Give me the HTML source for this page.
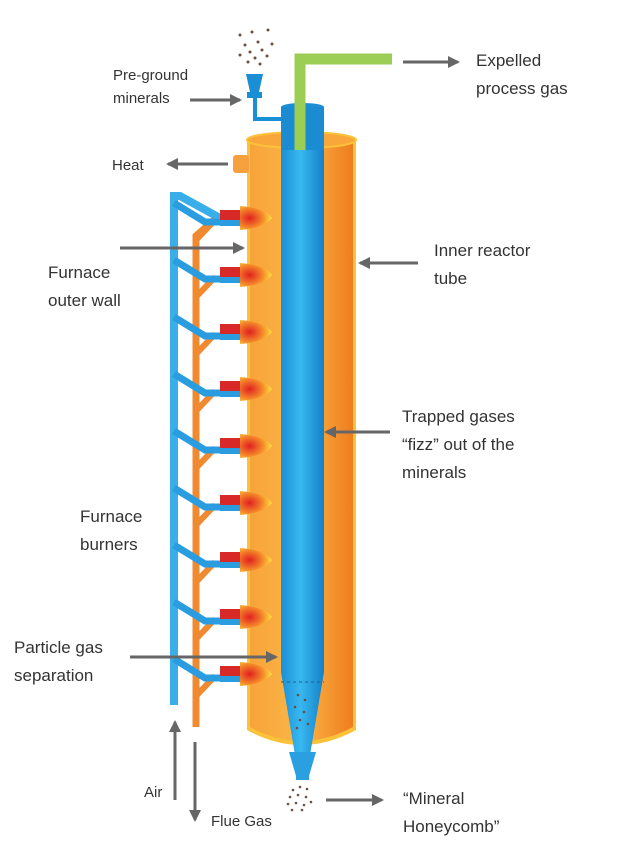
<!DOCTYPE html>
<html><head><meta charset="utf-8"><style>
body{margin:0;background:#fff;width:626px;height:860px;overflow:hidden}
svg text{font-family:"Liberation Sans",sans-serif;fill:#333}
</style></head><body>
<svg width="626" height="860" viewBox="0 0 626 860">
<defs>
<linearGradient id="or" x1="0" x2="1"><stop offset="0" stop-color="#f7a43a"/><stop offset="0.5" stop-color="#fbb648"/><stop offset="1" stop-color="#ee7d1e"/></linearGradient>
<linearGradient id="bl" x1="0" x2="1"><stop offset="0" stop-color="#1b8fd6"/><stop offset="0.45" stop-color="#38b8f0"/><stop offset="1" stop-color="#1580c8"/></linearGradient>
<radialGradient id="fl" cx="0.3" cy="0.5" r="0.7"><stop offset="0" stop-color="#e02020"/><stop offset="0.6" stop-color="#f58a2a"/><stop offset="1" stop-color="#ffe040"/></radialGradient>
<marker id="ah" markerWidth="12" markerHeight="12" refX="10" refY="6" orient="auto" markerUnits="userSpaceOnUse"><path d="M0,0 L12,6 L0,12 Z" fill="#666"/></marker>
<g id="bur"><path d="M196,240 L215,220" stroke="#f08a30" stroke-width="6"/><path d="M174,203 L205,222 L222,222" stroke="#2a9ce0" stroke-width="7" fill="none"/><rect x="220" y="210" width="24" height="10" fill="#d82828"/><rect x="220" y="220" width="24" height="6" fill="#2a9ce0"/><path d="M240,206 Q265,208 272,218 Q265,228 240,230 Z" fill="url(#fl)"/></g>
</defs>
<path d="M247,140 L247,730 Q301,760 356,730 L356,140 Z" fill="#fcc23a"/>
<path d="M250,140 L250,727 Q301,755 353,727 L353,140 Z" fill="url(#or)"/>
<ellipse cx="301.5" cy="140" rx="54.5" ry="8" fill="#f9a63a" stroke="#fcc23a" stroke-width="2"/>
<rect x="233" y="155" width="16" height="18" rx="3" fill="#f6a040"/>
<rect x="281" y="107" width="43" height="565" fill="url(#bl)"/>
<ellipse cx="302.5" cy="107" rx="21.5" ry="4" fill="#1b8fd6"/>
<rect x="281" y="107" width="43" height="43" fill="#1c8cd2"/>
<path d="M281,672 L324,672 L310,755 L295,755 Z" fill="url(#bl)"/>
<line x1="281" y1="682" x2="324" y2="682" stroke="#1a5f90" stroke-dasharray="3,3"/>
<path d="M289,752 L316,752 L309,776 L296,776 Z" fill="#2ba0e0"/>
<rect x="296" y="776" width="13" height="4" fill="#2ba0e0"/>
<path d="M300,150 L300,59 L392,59" fill="none" stroke="#9ccd55" stroke-width="11"/>
<path d="M246,74 L263,74 L259,92 L250,92 Z" fill="#1b8fd6"/>
<rect x="247" y="92" width="15" height="6" fill="#1b8fd6"/>
<path d="M255,98 L255,119 L281,119" fill="none" stroke="#1b8fd6" stroke-width="4"/>
<g fill="#6b5040">
<circle cx="240" cy="35" r="1.5"/><circle cx="252" cy="32" r="1.5"/><circle cx="268" cy="30" r="1.5"/><circle cx="245" cy="45" r="1.5"/><circle cx="258" cy="42" r="1.5"/><circle cx="272" cy="44" r="1.5"/><circle cx="250" cy="52" r="1.5"/><circle cx="262" cy="50" r="1.5"/><circle cx="240" cy="55" r="1.5"/><circle cx="255" cy="58" r="1.5"/><circle cx="267" cy="56" r="1.5"/><circle cx="248" cy="62" r="1.5"/><circle cx="260" cy="64" r="1.5"/>
<circle cx="293" cy="790" r="1.3"/><circle cx="300" cy="787" r="1.3"/><circle cx="307" cy="789" r="1.3"/><circle cx="290" cy="797" r="1.3"/><circle cx="298" cy="795" r="1.3"/><circle cx="306" cy="797" r="1.3"/><circle cx="288" cy="804" r="1.3"/><circle cx="296" cy="803" r="1.3"/><circle cx="304" cy="805" r="1.3"/><circle cx="311" cy="802" r="1.3"/><circle cx="292" cy="810" r="1.3"/><circle cx="302" cy="810" r="1.3"/>
<circle cx="298" cy="695" r="1.3"/><circle cx="305" cy="700" r="1.3"/><circle cx="295" cy="707" r="1.3"/><circle cx="304" cy="712" r="1.3"/><circle cx="300" cy="720" r="1.3"/><circle cx="308" cy="724" r="1.3"/><circle cx="297" cy="728" r="1.3"/>
</g>
<path d="M174,705 L174,196 L180,196 L220,218" fill="none" stroke="#3aaee8" stroke-width="8"/>
<path d="M196,727 L196,236 L214,220" fill="none" stroke="#f08a30" stroke-width="7"/>
<use href="#bur"/>
<use href="#bur" y="57"/>
<use href="#bur" y="114"/>
<use href="#bur" y="171"/>
<use href="#bur" y="228"/>
<use href="#bur" y="285"/>
<use href="#bur" y="342"/>
<use href="#bur" y="399"/>
<use href="#bur" y="456"/>
<g stroke="#666" stroke-width="3" marker-end="url(#ah)">
<line x1="403" y1="62" x2="458" y2="62"/>
<line x1="190" y1="100" x2="240" y2="100"/>
<line x1="228" y1="164" x2="168" y2="164"/>
<line x1="120" y1="248" x2="243" y2="248"/>
<line x1="418" y1="263" x2="360" y2="263"/>
<line x1="390" y1="432" x2="326" y2="432"/>
<line x1="130" y1="657" x2="276" y2="657"/>
<line x1="175" y1="800" x2="175" y2="722"/>
<line x1="195" y1="742" x2="195" y2="820"/>
<line x1="326" y1="800" x2="382" y2="800"/>
</g>
<g font-size="17">
<text x="476" y="66">Expelled</text><text x="476" y="94">process gas</text>
<text x="434" y="256">Inner reactor</text><text x="434" y="284">tube</text>
<text x="402" y="422">Trapped gases</text><text x="402" y="450">“fizz” out of the</text><text x="402" y="478">minerals</text>
<text x="48" y="278">Furnace</text><text x="48" y="306">outer wall</text>
<text x="80" y="522">Furnace</text><text x="80" y="550">burners</text>
<text x="14" y="653">Particle gas</text><text x="14" y="681">separation</text>
<text x="403" y="804">“Mineral</text><text x="403" y="832">Honeycomb”</text>
</g>
<g font-size="15">
<text x="113" y="80">Pre-ground</text><text x="113" y="103">minerals</text>
<text x="112" y="170">Heat</text>
<text x="144" y="797">Air</text>
<text x="211" y="826">Flue Gas</text>
</g>
</svg>
</body></html>
